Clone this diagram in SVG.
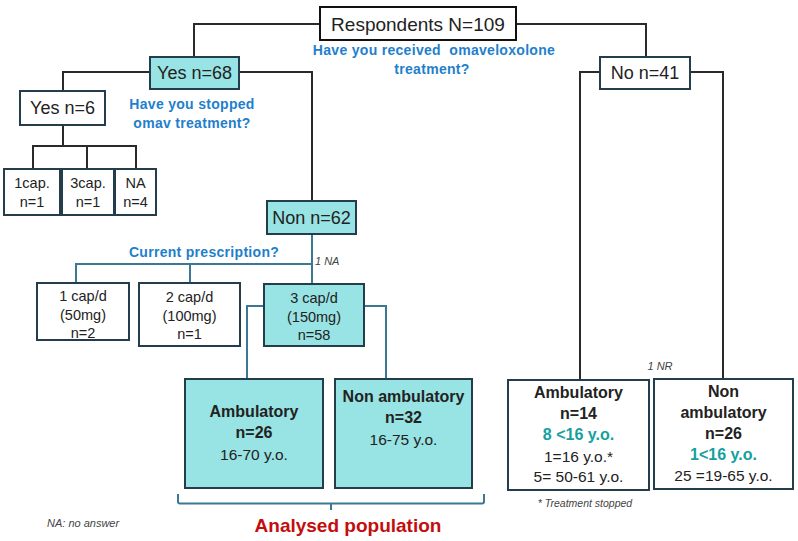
<svg xmlns="http://www.w3.org/2000/svg" width="798" height="541" viewBox="0 0 798 541">
<style>
text{font-family:"Liberation Sans",Arial,sans-serif;fill:#222;text-anchor:middle}
.box{fill:#fff;stroke:#233d4c;stroke-width:2}
.cy{fill:#98e3e3;stroke:#233d4c;stroke-width:2}
.big{font-size:18px}
.q{fill:#1f7fcc;font-weight:bold;font-size:14px;letter-spacing:0.3px}
.sm{font-size:14.5px}
.b{font-weight:bold;font-size:16px}
.n{font-size:15.5px}
.tl{fill:#15a0a0;font-weight:bold;font-size:16px}
.it{font-style:italic;font-size:11px;fill:#444}
.c{fill:none;stroke:#2a2a2a;stroke-width:2}
.ct{fill:none;stroke:#3b7893;stroke-width:2}
</style>
<rect width="798" height="541" fill="#fff"/>
<g id="connectors">
<path class="c" d="M320,24 H194 V57"/>
<path class="c" d="M516,24 H646 V57"/>
<path class="c" d="M150,72 H63 V91"/>
<path class="c" d="M239,72 H312 V201"/>
<path class="c" d="M600,72 H580 V380"/>
<path class="c" d="M690,72 H723 V379"/>
<path class="c" d="M63,125 V146 M33,169 V146 H136 V169 M87,146 V169"/>
<path class="ct" d="M312,234 V284 M76,283 V264 H312 M190,264 V283"/>
<path class="ct" d="M264,306 H247 V379 M364,306 H386 V379"/>
<path class="ct" d="M178,494 V501.5 Q178,503.5 180,503.5 H482 Q484,503.5 484,501.5 V494 M331,503.5 V510"/>
</g>
<g id="respondents">
<rect class="box" x="320" y="7" width="196" height="33" style="stroke:#111"/>
<text x="418" y="31" style="font-size:19px">Respondents N=109</text>
</g>
<g id="q1">
<text class="q" x="434" y="55" xml:space="preserve">Have you received  omaveloxolone</text>
<text class="q" x="432" y="74">treatment?</text>
</g>
<g id="yes68">
<rect class="cy" x="150" y="57" width="89" height="32"/>
<text class="big" x="194.5" y="79">Yes n=68</text>
</g>
<g id="no41">
<rect class="box" x="600" y="57" width="90" height="32"/>
<text class="big" x="645" y="79">No n=41</text>
</g>
<g id="q2">
<text class="q" x="192" y="109">Have you stopped</text>
<text class="q" x="192" y="128">omav treatment?</text>
</g>
<g id="yes6">
<rect class="box" x="20" y="91" width="85" height="34"/>
<text class="big" x="62.5" y="114">Yes n=6</text>
</g>
<g id="cap1">
<rect class="box" x="4" y="169" width="56" height="46"/>
<text class="sm" x="32" y="188">1cap.</text>
<text class="sm" x="32" y="207">n=1</text>
</g>
<g id="cap3">
<rect class="box" x="62" y="169" width="52" height="46"/>
<text class="sm" x="88" y="188">3cap.</text>
<text class="sm" x="88" y="207">n=1</text>
</g>
<g id="na">
<rect class="box" x="115" y="169" width="41" height="46"/>
<text class="sm" x="135.5" y="188">NA</text>
<text class="sm" x="135.5" y="207">n=4</text>
</g>
<g id="non62">
<rect class="cy" x="267" y="201" width="89" height="33"/>
<text class="big" x="311.5" y="224">Non n=62</text>
</g>
<g id="q3">
<text class="q" x="204" y="257">Current prescription?</text>
<text class="it" x="315" y="265" style="text-anchor:start">1 NA</text>
</g>
<g id="d1">
<rect class="box" x="37" y="283" width="92" height="57"/>
<text class="sm" x="83" y="301">1 cap/d</text>
<text class="sm" x="83" y="320">(50mg)</text>
<text class="sm" x="83" y="338">n=2</text>
</g>
<g id="d2">
<rect class="box" x="139" y="283" width="101" height="63"/>
<text class="sm" x="189.5" y="302">2 cap/d</text>
<text class="sm" x="189.5" y="321">(100mg)</text>
<text class="sm" x="189.5" y="339">n=1</text>
</g>
<g id="d3">
<rect class="cy" x="264" y="284" width="100" height="62"/>
<text class="sm" x="314" y="303">3 cap/d</text>
<text class="sm" x="314" y="322">(150mg)</text>
<text class="sm" x="314" y="340">n=58</text>
</g>
<g id="amb1">
<rect class="cy" x="185" y="379" width="138" height="109"/>
<text class="b" x="254" y="417">Ambulatory</text>
<text class="b" x="254" y="438">n=26</text>
<text class="n" x="254" y="460">16-70 y.o.</text>
</g>
<g id="nonamb1">
<rect class="cy" x="335" y="379" width="137" height="109"/>
<text class="b" x="403.5" y="402">Non ambulatory</text>
<text class="b" x="403.5" y="423">n=32</text>
<text class="n" x="403.5" y="445">16-75 y.o.</text>
</g>
<g id="analysed">
<text x="348" y="532" style="fill:#c40d0d;font-weight:bold;font-size:19px">Analysed population</text>
</g>
<g id="nr">
<text class="it" x="660" y="370">1 NR</text>
</g>
<g id="amb2">
<rect class="box" x="508" y="380" width="141" height="110"/>
<text class="b" x="578.5" y="398">Ambulatory</text>
<text class="b" x="578.5" y="419">n=14</text>
<text class="tl" x="578.5" y="440">8 &lt;16 y.o.</text>
<text class="n" x="578.5" y="462">1=16 y.o.*</text>
<text class="n" x="578.5" y="482">5= 50-61 y.o.</text>
</g>
<g id="nonamb2">
<rect class="box" x="654" y="379" width="139" height="110"/>
<text class="b" x="723.5" y="397">Non</text>
<text class="b" x="723.5" y="418">ambulatory</text>
<text class="b" x="723.5" y="439">n=26</text>
<text class="tl" x="723.5" y="460">1&lt;16 y.o.</text>
<text class="n" x="723.5" y="481">25 =19-65 y.o.</text>
</g>
<g id="notes">
<text class="it" x="585" y="507" style="font-size:10.5px">* Treatment stopped</text>
<text class="it" x="47" y="527" style="text-anchor:start">NA: no answer</text>
</g>
</svg>
